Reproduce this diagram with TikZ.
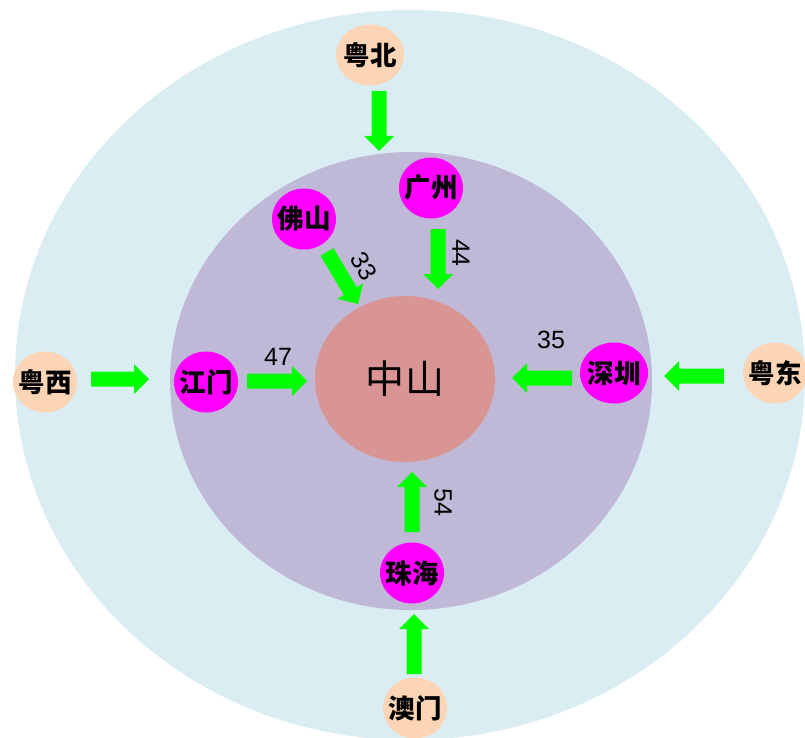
\documentclass[tikz,border=0pt]{standalone}
\usepackage{fontspec}
\setmainfont{Liberation Sans}
\newfontfamily\cjk{Noto Sans CJK SC}
\usetikzlibrary{shapes.geometric,calc}

\definecolor{outerbg}{HTML}{DAEDF3}
\definecolor{innerbg}{HTML}{BFB8D6}
\definecolor{corefill}{HTML}{D99594}
\definecolor{citymag}{HTML}{FF00FF}
\definecolor{regionpeach}{HTML}{FBD5B5}
\definecolor{flowgreen}{HTML}{00FF00}

% block arrow from #1 (tail) to #2 (tip): shaft 15pt wide, head 30pt wide and 15pt long
\newcommand\flowarrow[2]{%
  \coordinate (fab) at ($(#2)!15pt!(#1)$);
  \fill[flowgreen] ($(#1)!7.5pt!90:(#2)$) -- ($(fab)!7.5pt!90:(#2)$)
    -- ($(fab)!15pt!90:(#2)$) -- (#2) -- ($(fab)!15pt!-90:(#2)$)
    -- ($(fab)!7.5pt!-90:(#2)$) -- ($(#1)!7.5pt!-90:(#2)$) -- cycle;}

\tikzset{
  ring/.style={ellipse, inner sep=0pt},
  city/.style={ellipse, fill=citymag, minimum width=64pt, minimum height=61pt,
    inner xsep=-16pt, inner ysep=0pt, font=\cjk\bfseries\fontsize{26.5}{26.5}\selectfont},
  region/.style={city, fill=regionpeach},
  num/.style={inner sep=0pt, font=\fontsize{25}{25}\selectfont}
}

\begin{document}
\begin{tikzpicture}[x=1pt,y=-1pt]
\useasboundingbox (0,0) rectangle (805,738);

% rings
\node[ring, fill=outerbg, minimum width=790pt, minimum height=730pt] (outer) at (410,375) {};
\node[ring, fill=innerbg, minimum width=482pt, minimum height=458pt] (inner) at (411,381) {};
\node[ring, fill=corefill, minimum width=180pt, minimum height=166pt,
  font=\cjk\fontsize{39}{39}\selectfont] (zs) at (405,379) {中\hspace{2pt}山};

% neighbouring cities
\node[city] (gz) at (431,188) {广州};
\node[city] (fs) at (304,219) {佛山};
\node[city] (jm) at (206,382) {江门};
\node[city, minimum width=68pt] (sz) at (614,373) {深圳};
\node[city] (zh) at (412,573) {珠海};

% outer regions
\node[region, minimum width=68pt] (yb) at (370,55) {粤北};
\node[region] (am) at (415,708) {澳门};
\node[region] (yx) at (45,382) {粤西};
\node[region] (yd) at (775,373) {粤东};

% arrow ends
\coordinate (ybT) at (379,91);   \coordinate (ybH) at (379,151);
\coordinate (gzT) at (438,229);  \coordinate (gzH) at (438,289);
\coordinate (fsT) at (327,252);  \coordinate (fsH) at (358,304);
\coordinate (jmT) at (247,381);  \coordinate (jmH) at (307,381);
\coordinate (szT) at (572,378);  \coordinate (szH) at (512,378);
\coordinate (yxT) at (91,379);   \coordinate (yxH) at (149,379);
\coordinate (ydT) at (724,376);  \coordinate (ydH) at (664,376);
\coordinate (zhT) at (412,532);  \coordinate (zhH) at (412,472);
\coordinate (amT) at (414,674);  \coordinate (amH) at (414,614);

\flowarrow{ybT}{ybH}
\flowarrow{gzT}{gzH}
\flowarrow{fsT}{fsH}
\flowarrow{jmT}{jmH}
\flowarrow{szT}{szH}
\flowarrow{yxT}{yxH}
\flowarrow{ydT}{ydH}
\flowarrow{zhT}{zhH}
\flowarrow{amT}{amH}

% flow values
\node[num, rotate=-60] (v33) at (364,266) {33};
\node[num, rotate=-90] (v44) at (461,253) {44};
\node[num, rotate=-90] (v54) at (443,502) {54};
\node[num] (v47) at (278,357) {47};
\node[num] (v35) at (551,340) {35};
\end{tikzpicture}
\end{document}
